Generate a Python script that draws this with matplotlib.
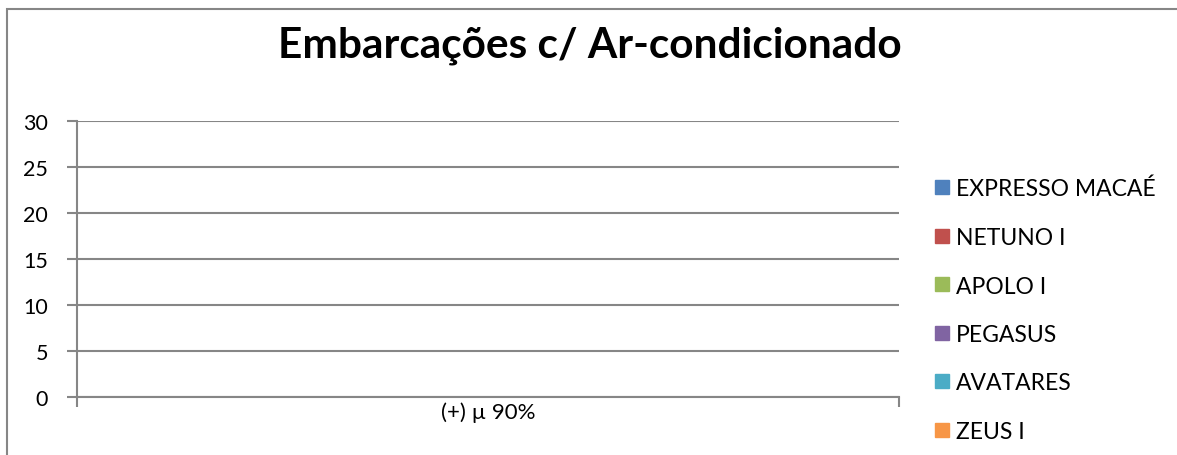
import matplotlib
import numpy as np

matplotlib.use("Agg")
import matplotlib.pyplot as plt
from matplotlib.lines import Line2D
from matplotlib.patches import Rectangle

title = "Embarcações c/ Ar-condicionado"
categories = ["(+) µ 90%"]
series = ["EXPRESSO MACAÉ", "NETUNO I", "APOLO I", "PEGASUS", "AVATARES", "ZEUS I"]
values = [[0], [0], [0], [0], [0], [0]]
colors = ["#4F81BD", "#C0504D", "#9BBB59", "#8064A2", "#4BACC6", "#F79646"]
yticks = [0, 5, 10, 15, 20, 25, 30]

plt.rcParams["font.family"] = ["Lato", "DejaVu Sans"]
W, H = 1177, 456
fig = plt.figure(figsize=(W / 100, H / 100), dpi=100)
ax = fig.add_axes([77 / W, 1 - 398 / H, (899 - 77) / W, (398 - 122) / H])

grid_c = "#868686"
x = np.arange(len(categories))
width = 0.8 / len(series)
for i, (name, vals, c) in enumerate(zip(series, values, colors)):
    ax.bar(x - 0.4 + width * (i + 0.5), vals, width, color=c, label=name)

ax.set_xlim(-0.5, 0.5)
ax.set_ylim(0, 30)
ax.set_yticks(yticks)
ax.set_yticklabels([str(t) for t in yticks], fontsize=15.5)
ax.set_xticks([-0.5, 0.5], minor=True)
ax.set_xticks(x)
ax.set_xticklabels(categories, fontsize=16)
ax.tick_params(axis="x", which="major", length=0, pad=3)
ax.tick_params(axis="x", which="minor", length=7, width=1.5, color=grid_c)
ax.tick_params(axis="y", length=7, width=1.5, color=grid_c, pad=14)
ax.yaxis.grid(True, color=grid_c, linewidth=1.5)
ax.set_axisbelow(True)
for side in ("top", "right"):
    ax.spines[side].set_visible(False)
for side in ("left", "bottom"):
    ax.spines[side].set_color(grid_c)
    ax.spines[side].set_linewidth(1.5)

fig.text(590 / W, 1 - 46 / H, title, ha="center", va="center",
         fontsize=30.5, fontweight="bold")

handles = [Line2D([], [], marker="s", linestyle="none", markersize=10,
                  markerfacecolor=c, markeredgecolor=c) for c in colors]
fig.legend(handles, series, loc="upper left",
           bbox_to_anchor=(933 / W, 1 - 179 / H), frameon=False,
           fontsize=16.5, handlelength=0.8, handletextpad=0.2,
           labelspacing=1.2, borderpad=0, borderaxespad=0)

fig.patches.append(Rectangle((7 / W, -0.1), 2, 1.1 - 10 / H,
                             transform=fig.transFigure, fill=False,
                             edgecolor=grid_c, linewidth=1.5))

fig.savefig("out.png", dpi=100)
